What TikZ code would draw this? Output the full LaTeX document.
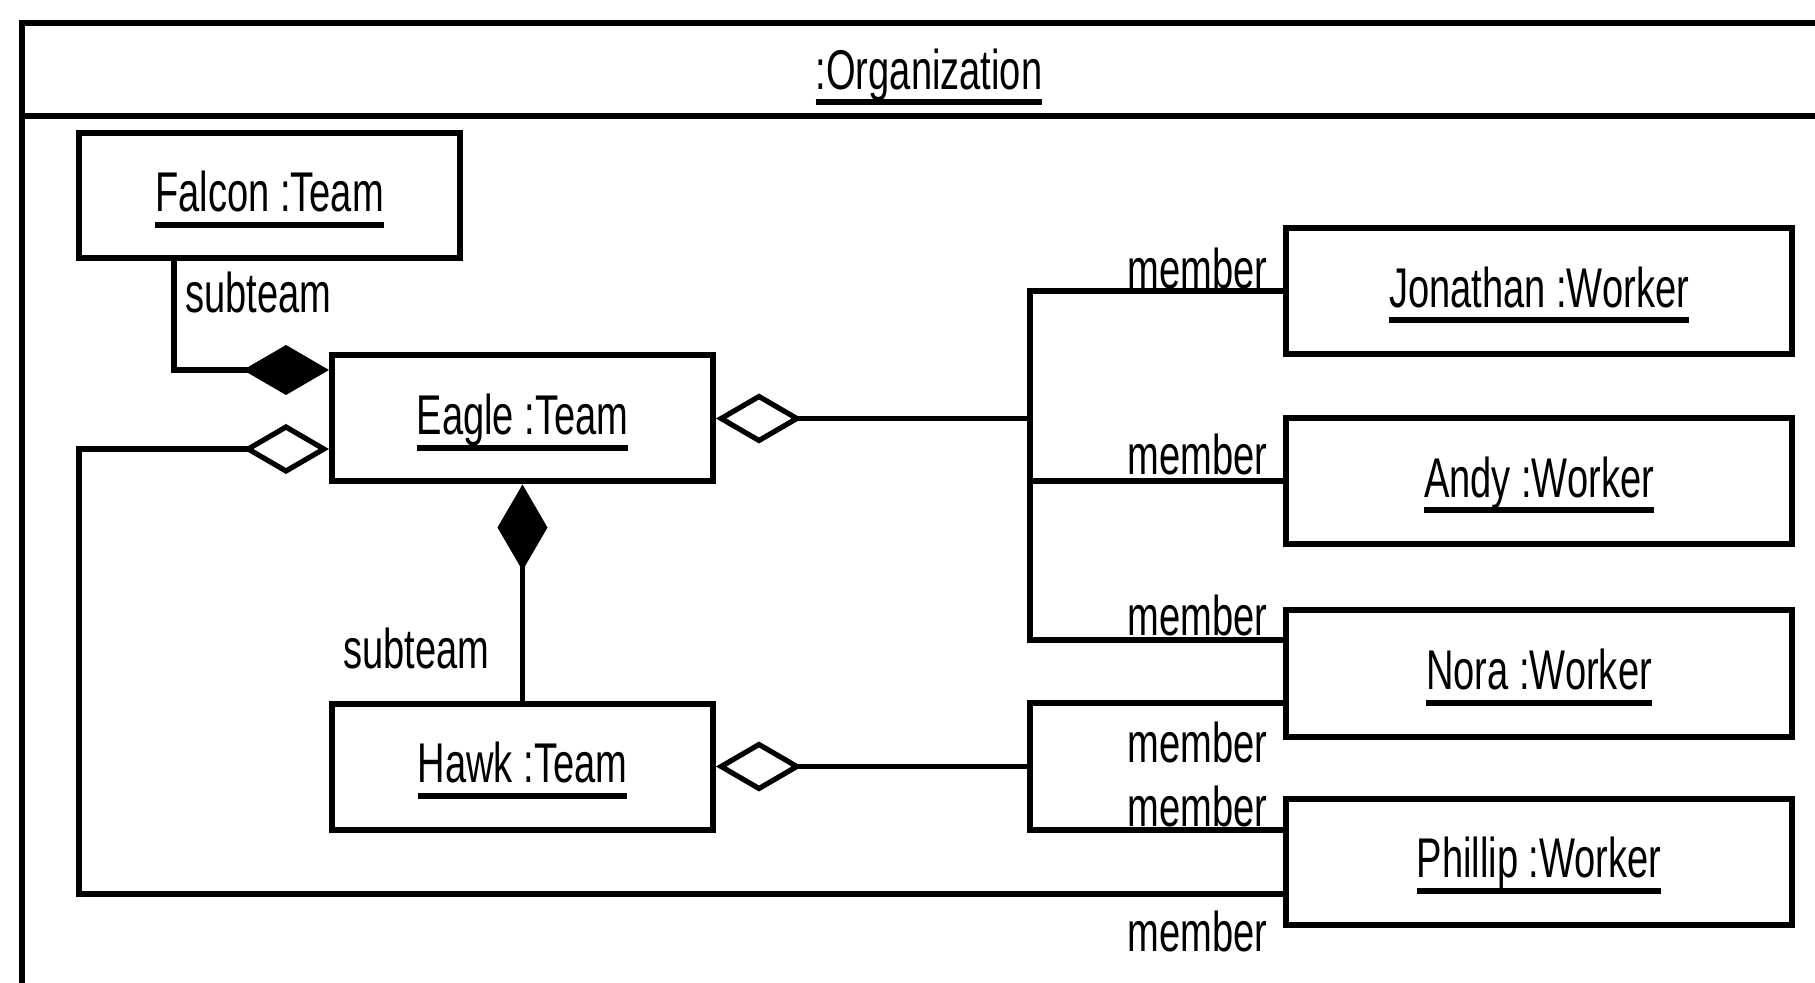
\documentclass[tikz,border=0pt]{standalone}
\usepackage{fontspec}
\setmainfont{Liberation Sans}[FakeStretch=0.68]
\usetikzlibrary{arrows.meta}

% text size used for object names and role labels
\newcommand\namefont{\fontsize{28}{32}\selectfont}
% underlined object name (UML instance notation); descenders run through the rule
\newcommand\objname[1]{\vbox{\kern4pt\hbox{\raisebox{0pt}[\height][0pt]{#1}}\kern5pt\hrule height 3pt}}

\begin{document}
\begin{tikzpicture}[x=0.5pt,y=-0.5pt,
  teambox/.style={draw, line width=3pt, minimum width=190.5pt, minimum height=63pt,
                  inner sep=0pt, font=\namefont},
  workerbox/.style={teambox, minimum width=253pt},
  role/.style={inner sep=0pt, font=\namefont},
  link/.style={line width=2.6pt},
  composition/.style={link, {Diamond[length=43pt,width=25pt]}-},
  aggregation/.style={link, {Diamond[open,length=43pt,width=25pt]}-},
]
\useasboundingbox (0,0) rectangle (1815,983);
\clip (0,0) rectangle (1815,983);

% package frame with its name compartment
\draw[line width=3pt] (22,23) rectangle (1900,1050);
\draw[line width=3pt] (22,116) -- (1900,116);
\node[role] (org) at (929,73) {\objname{:Organization}};

% teams
\node[teambox, minimum height=62.5pt] (falcon) at (269.5,195.5) {\objname{Falcon :Team}};
\node[teambox] (eagle) at (522.5,418.5) {\objname{Eagle :Team}};
\node[teambox] (hawk) at (522.5,766.5) {\objname{Hawk :Team}};

% workers
\node[workerbox] (jonathan) at (1539,291) {\objname{Jonathan :Worker}};
\node[workerbox] (andy) at (1539,481) {\objname{Andy :Worker}};
\node[workerbox] (nora) at (1539,673.5) {\objname{Nora :Worker}};
\node[workerbox] (phillip) at (1539,861.5) {\objname{Phillip :Worker}};

% subteam compositions
\draw[composition] (eagle.west |- 0,370) -| (falcon.south -| 174,0);
\draw[composition] (eagle.south) -- (hawk.north);
\node[role, anchor=west] (sub1) at (185,292) {subteam};
\node[role, anchor=east] (sub2) at (490,648) {subteam};

% Eagle's members
\coordinate (ebus) at (1030,640);
\draw[aggregation] (eagle.east) -- (eagle.east -| ebus);
\draw[link] (jonathan.west) -| (ebus) -- (nora.west |- ebus);
\draw[link] (andy.west) -- (andy.west -| ebus);
\draw[aggregation] (eagle.west |- 0,449) -| (79,894) -- (phillip.west |- 0,894);

% Hawk's members
\coordinate (htop) at (1030,703);
\coordinate (hbot) at (1030,830);
\draw[aggregation] (hawk.east) -- (hawk.east -| htop);
\draw[link] (nora.west |- htop) -- (htop) -- (hbot) -- (phillip.west |- hbot);

% role names
\node[role, anchor=east] (m1) at (1268,268) {member};
\node[role, anchor=east] (m2) at (1268,454) {member};
\node[role, anchor=east] (m3) at (1268,615) {member};
\node[role, anchor=east] (m4) at (1268,742) {member};
\node[role, anchor=east] (m5) at (1268,806) {member};
\node[role, anchor=east] (m6) at (1268,931) {member};
\end{tikzpicture}
\end{document}
